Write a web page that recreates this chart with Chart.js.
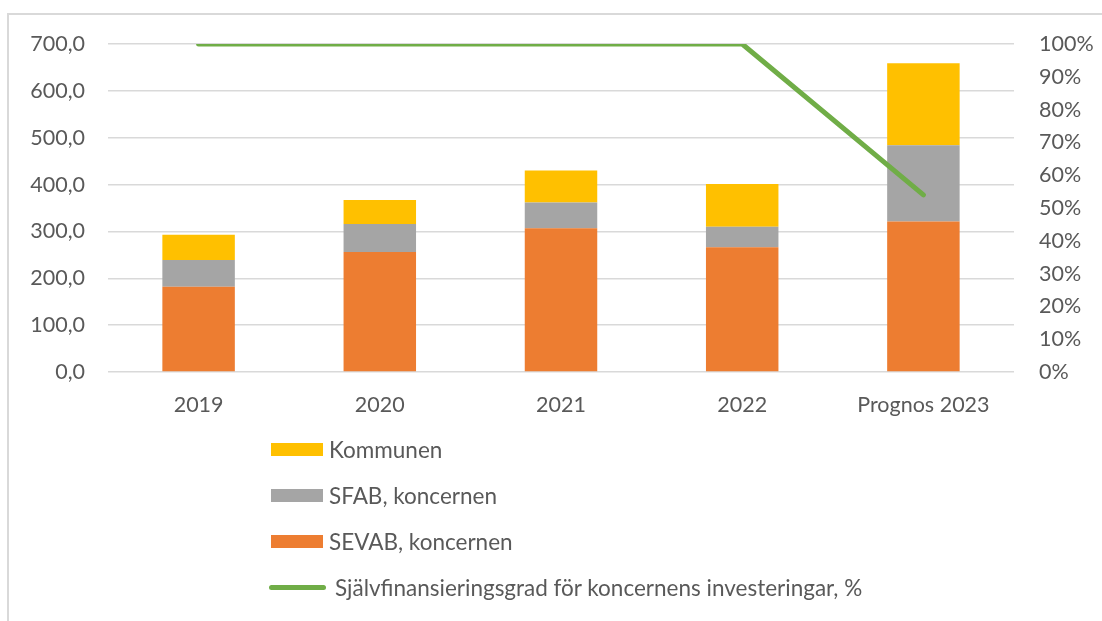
<!DOCTYPE html>
<html lang="sv">
<head>
<meta charset="utf-8">
<title>Investeringar och självfinansieringsgrad</title>
<script src="https://cdn.jsdelivr.net/npm/chart.js@4/dist/chart.umd.min.js"></script>
<style>
    html, body {
        margin: 0;
        padding: 0;
        background: #fff;
    }
    #wrap {
        position: relative;
        width: 1102px;
        height: 621px;
        overflow: hidden;
        font-family: Lato, 'Open Sans', sans-serif;
    }
    #frame {
        position: absolute;
        left: 7px;
        top: 13px;
        width: 1200px;
        height: 700px;
        border-left: 2px solid #d9d9d9;
        border-top: 2px solid #d9d9d9;
    }
    #chart {
        position: absolute;
        left: 0;
        top: 0;
    }
    .legend-row {
        position: absolute;
        left: 269px;
        height: 24px;
        display: flex;
        align-items: center;
        color: #595959;
        font-size: 22.5px;
    }
    .legend-box {
        width: 52px;
        height: 13px;
        margin-left: 2px;
        margin-right: 6px;
    }
    .legend-line {
        width: 57px;
        height: 5px;
        border-radius: 3px;
        margin-right: 9px;
    }
</style>
</head>
<body>
<div id="wrap">
    <div id="frame"></div>
    <canvas id="chart" width="1102" height="621"></canvas>
    <div id="legend"></div>
</div>
<script>
    'use strict';

    const categories = ['2019', '2020', '2021', '2022', 'Prognos 2023'];

    // investeringar, mnkr
    const sevab = [182, 256, 307, 266, 321];
    const sfab = [57, 60, 55, 44, 163];
    const kommunen = [54, 51, 68, 91, 175];

    // självfinansieringsgrad, %
    const sjalvfinansiering = [100, 100, 100, 100, 54];

    const leftTicks = [0, 100, 200, 300, 400, 500, 600, 700];
    const rightTicks = [0, 10, 20, 30, 40, 50, 60, 70, 80, 90, 100];

    const textColor = '#595959';
    const gridColor = '#d9d9d9';
    const tickFont = { family: 'Lato', size: 21.5 };

    function formatKr(value) {
        return value.toFixed(1).replace('.', ',');
    }

    const ctx = document.getElementById('chart');

    const chart = new Chart(ctx, {
        type: 'bar',
        data: {
            labels: categories,
            datasets: [{
                label: 'SEVAB, koncernen',
                data: sevab,
                backgroundColor: '#ed7d31',
                stack: 'inv',
                order: 1
            }, {
                label: 'SFAB, koncernen',
                data: sfab,
                backgroundColor: '#a5a5a5',
                stack: 'inv',
                order: 1
            }, {
                label: 'Kommunen',
                data: kommunen,
                backgroundColor: '#ffc000',
                stack: 'inv',
                order: 1
            }, {
                type: 'line',
                label: 'Självfinansieringsgrad för koncernens investeringar, %',
                data: sjalvfinansiering,
                yAxisID: 'y1',
                borderColor: '#70ad47',
                backgroundColor: '#70ad47',
                borderWidth: 5,
                borderCapStyle: 'round',
                borderJoinStyle: 'round',
                pointRadius: 0,
                tension: 0,
                order: 0
            }]
        },
        options: {
            responsive: false,
            animation: false,
            layout: {
                padding: { left: 0, right: 0, top: 44, bottom: 199 }
            },
            datasets: {
                bar: {
                    barPercentage: 0.8,
                    categoryPercentage: 0.5
                }
            },
            plugins: {
                legend: { display: false },
                tooltip: { enabled: false }
            },
            scales: {
                x: {
                    stacked: true,
                    grid: { display: false, drawTicks: false },
                    border: { display: false },
                    ticks: {
                        color: textColor,
                        font: tickFont,
                        padding: 20,
                        maxRotation: 0
                    },
                    afterFit: function(scale) {
                        scale.height = 50;
                    }
                },
                y: {
                    stacked: true,
                    position: 'left',
                    min: 0,
                    max: 700,
                    afterBuildTicks: function(scale) {
                        scale.ticks = leftTicks.map(v => ({ value: v }));
                    },
                    grid: {
                        color: gridColor,
                        lineWidth: 1.5,
                        drawTicks: false
                    },
                    border: { display: false },
                    ticks: {
                        color: textColor,
                        font: tickFont,
                        padding: 23,
                        callback: value => formatKr(value)
                    },
                    afterFit: function(scale) {
                        scale.width = 108;
                    }
                },
                y1: {
                    position: 'right',
                    min: 0,
                    max: 100,
                    afterBuildTicks: function(scale) {
                        scale.ticks = rightTicks.map(v => ({ value: v }));
                    },
                    grid: { display: false, drawTicks: false },
                    border: { display: false },
                    ticks: {
                        color: textColor,
                        font: tickFont,
                        padding: 25,
                        callback: value => value + '%'
                    },
                    afterFit: function(scale) {
                        scale.width = 88;
                    }
                }
            }
        }
    });

    function renderLegend() {
        const container = document.getElementById('legend');
        const order = [2, 1, 0, 3];
        const rowTops = [437, 483, 529, 575];

        order.forEach((index, i) => {
            const ds = chart.data.datasets[index];
            const row = document.createElement('div');
            row.className = 'legend-row';
            row.style.top = rowTops[i] + 'px';

            const marker = document.createElement('span');
            if (ds.type === 'line') {
                marker.className = 'legend-line';
                marker.style.background = ds.borderColor;
            } else {
                marker.className = 'legend-box';
                marker.style.background = ds.backgroundColor;
            }

            const text = document.createElement('span');
            text.textContent = ds.label;

            row.appendChild(marker);
            row.appendChild(text);
            container.appendChild(row);
        });
    }

    renderLegend();
</script>
</body>
</html>
